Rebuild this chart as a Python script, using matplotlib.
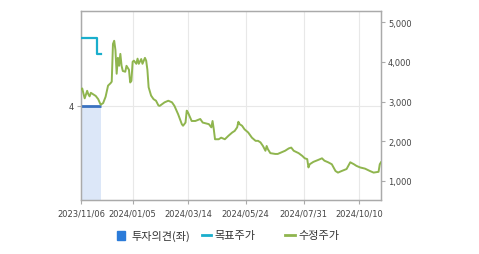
import matplotlib.pyplot as plt
from matplotlib.patches import Rectangle
from matplotlib.lines import Line2D

plt.rcParams['font.family'] = ['DejaVu Sans']

# trading-day index (0 = 2023/11/06)
tick_days = [0, 42, 87, 134, 181, 226]
tick_labels = ["2023/11/06", "2024/01/05", "2024/03/14", "2024/05/24", "2024/07/31", "2024/10/10"]
last_day = 244

# investment opinion (left axis)
opinion_days = [0, 16]
opinion_values = [4, 4]

# target price
target_days = [0, 13, 16]
target_values = [4600, 4200, 4200]

# adjusted price
price_days = [0, 1, 2, 3, 5, 6, 7, 8, 10, 12, 14, 16, 18, 20, 22, 24, 25, 26, 27, 28,
              29, 30, 31, 32, 33, 34, 36, 37, 39, 40, 41, 42, 43, 45, 46, 47, 49, 50, 52, 53,
              54, 55, 57, 59, 61, 63, 64, 68, 71, 74, 76, 79, 82, 83, 85, 86, 87, 90, 93, 97,
              99, 104, 106, 107, 108, 109, 112, 114, 117, 120, 123, 125, 127, 128, 129, 131, 133, 136, 139, 142,
              144, 146, 148, 150, 151, 152, 154, 158, 160, 163, 166, 169, 171, 173, 177, 180, 182, 184, 185, 186,
              189, 193, 196, 198, 201, 204, 207, 209, 212, 216, 219, 222, 224, 227, 231, 235, 238, 242, 243, 244]
price_values = [3310, 3330, 3200, 3080, 3270, 3180, 3130, 3220, 3180, 3140, 3060, 2920, 2960, 3120, 3400, 3460, 3500, 4450, 4530, 4300,
                3700, 4100, 3900, 4200, 3900, 3770, 3750, 3900, 3800, 3480, 3520, 4000, 4030, 3950, 4080, 3950, 4070, 3950, 4100, 4030,
                3800, 3360, 3150, 3060, 3020, 2900, 2890, 2980, 3020, 2980, 2890, 2680, 2430, 2390, 2470, 2770, 2725, 2510, 2510, 2560,
                2470, 2430, 2350, 2510, 2300, 2050, 2050, 2090, 2050, 2140, 2220, 2260, 2350, 2490, 2430, 2390, 2300, 2220, 2090, 2010,
                2010, 1970, 1880, 1760, 1880, 1800, 1700, 1680, 1680, 1720, 1760, 1820, 1840, 1760, 1700, 1630, 1570, 1550, 1340, 1420,
                1480, 1530, 1570, 1510, 1470, 1420, 1250, 1210, 1250, 1300, 1470, 1420, 1380, 1340, 1310, 1250, 1210, 1230, 1420, 1470]

price_ticks = [1000, 2000, 3000, 4000, 5000]

fig = plt.figure(figsize=(4.79, 2.55), dpi=100)
ax = fig.add_axes([81 / 479, 54 / 255, 300 / 479, 189 / 255])
ax2 = ax.twinx()

edge = "#aaaaaa"
txt = "#444444"

# opinion
ax.fill_between(opinion_days, 0, opinion_values, color="#dce7f8", lw=0, zorder=1)
ax.plot(opinion_days, opinion_values, color="#3a72c0", lw=2, zorder=3, solid_capstyle="butt")
ax.set_ylim(0, 8)
ax.set_yticks([4])
ax.set_yticklabels(["4"])
ax.set_xlim(0, last_day)
ax.set_xticks(tick_days)
ax.set_xticklabels(tick_labels)
ax.grid(True, color="#e8e8e8", lw=0.8, zorder=0)
ax.set_axisbelow(True)

# prices
ax2.plot(target_days, target_values, color="#1aaecc", lw=1.6, drawstyle="steps-post", zorder=4)
ax2.plot(price_days, price_values, color="#8fb54e", lw=1.4, zorder=5)
ax2.set_ylim(520, 5280)
ax2.set_yticks(price_ticks)
ax2.set_yticklabels([f"{v:,}" for v in price_ticks])

for a in (ax, ax2):
    for s in a.spines.values():
        s.set_color(edge)
        s.set_linewidth(0.9)
    a.tick_params(colors=edge, labelcolor=txt, labelsize=6, length=3, width=0.8, pad=2)

ax.tick_params(axis="x", pad=3)

# legend
fs = 8
fam = ['Noto Sans CJK KR', 'DejaVu Sans']
fig.patches.append(Rectangle((117 / 479, 1 - 241 / 255), 8 / 479, 9 / 255,
                             transform=fig.transFigure, color="#2b7bd9"))
fig.text(131 / 479, 1 - 236 / 255, "투자의견(좌)", fontsize=fs, family=fam, color="#333333", va="center")
fig.lines.append(Line2D([202 / 479, 211 / 479], [1 - 236 / 255] * 2, transform=fig.transFigure,
                        color="#1aaecc", lw=2))
fig.text(214 / 479, 1 - 236 / 255, "목표주가", fontsize=fs, family=fam, color="#333333", va="center")
fig.lines.append(Line2D([285 / 479, 295 / 479], [1 - 236 / 255] * 2, transform=fig.transFigure,
                        color="#8fb54e", lw=2))
fig.text(298 / 479, 1 - 236 / 255, "수정주가", fontsize=fs, family=fam, color="#333333", va="center")

fig.savefig("out.png", dpi=100)
